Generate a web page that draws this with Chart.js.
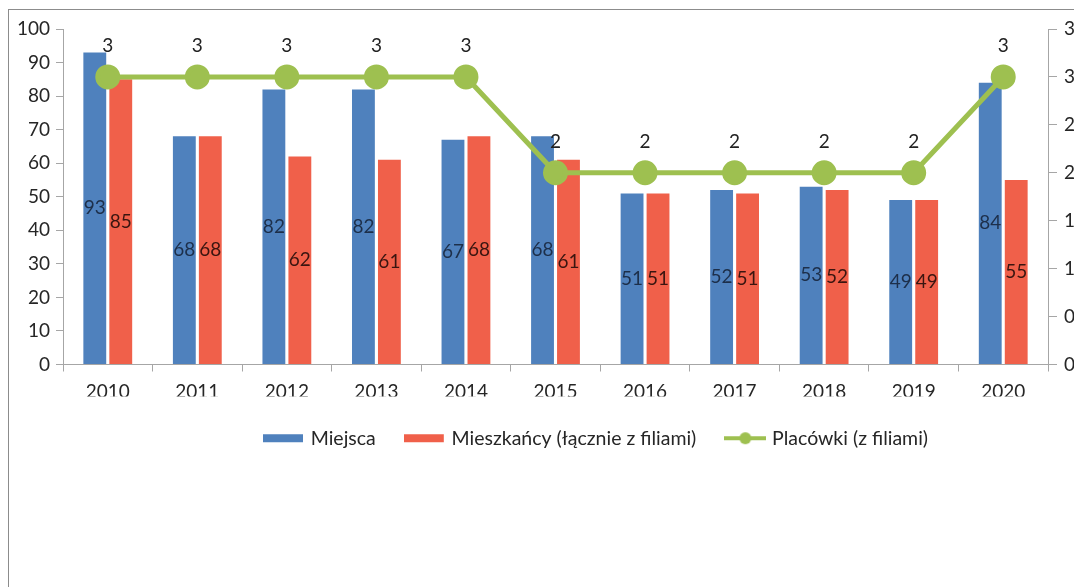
<!DOCTYPE html>
<html>
<head>
<meta charset="utf-8">
<script src="https://cdn.jsdelivr.net/npm/chart.js@4.4.1/dist/chart.umd.min.js"></script>
<style>
html, body { margin: 0; padding: 0; background: #fff; overflow: hidden; width: 1074px; height: 587px; }
#frame { position: absolute; left: 8px; top: 9px; width: 1200px; height: 700px; border: 1px solid #8c8c8c; }
#wykres { position: absolute; left: 0; top: 0; }
</style>
</head>
<body>
<div id="frame"><canvas id="wykres" width="1177" height="470"></canvas></div>
<script>
//dane do wykresu
var lata = ['2010', '2011', '2012', '2013', '2014', '2015', '2016', '2017', '2018', '2019', '2020'];
var miejsca = [93, 68, 82, 82, 67, 68, 51, 52, 53, 49, 84];
var mieszkancy = [85, 68, 62, 61, 68, 61, 51, 51, 52, 49, 55];
var placowki = [3, 3, 3, 3, 3, 2, 2, 2, 2, 2, 3];
var nazwySerii = ['Miejsca', 'Mieszkańcy (łącznie z filiami)', 'Placówki (z filiami)'];

var NIEBIESKI = '#4F81BD';
var CZERWONY = '#F0604A';
var ZIELONY = '#9EC050';
var FONT = 'Lato';
var TEKST = '#262626';

//mala ikonka do legendy (prostokat albo linia z kropka)
function ikonka(linia, kolor) {
  var c = document.createElement('canvas');
  c.width = 42;
  c.height = 16;
  var g = c.getContext('2d');
  if (linia) {
    g.strokeStyle = kolor;
    g.lineWidth = 4;
    g.beginPath();
    g.moveTo(0, 8);
    g.lineTo(42, 8);
    g.stroke();
    g.fillStyle = kolor;
    g.beginPath();
    g.arc(21, 8, 6, 0, Math.PI * 2);
    g.fill();
  } else {
    g.fillStyle = kolor;
    g.fillRect(0, 4, 40, 8);
  }
  return c;
}

//etykiety z wartosciami na slupkach i punktach
var etykiety = {
  id: 'etykiety',
  afterDatasetsDraw: function(chart) {
    var ctx = chart.ctx;
    ctx.save();
    ctx.font = '19px ' + FONT;
    ctx.textAlign = 'center';
    ctx.textBaseline = 'middle';
    chart.data.datasets.forEach(function(ds, i) {
      var meta = chart.getDatasetMeta(i);
      meta.data.forEach(function(el, j) {
        var v = ds.data[j];
        if (ds.type === 'line') {
          ctx.fillStyle = '#222';
          ctx.fillText(v, el.x, el.y - 31);
        } else {
          ctx.fillStyle = ds.kolorEtykiety;
          ctx.fillText(v, el.x, (el.y + el.base) / 2);
        }
      });
    });
    ctx.restore();
  }
};

var osKolor = '#a6a6a6';

const config = {
  data: {
    labels: lata,
    datasets: [
      {
        type: 'line',
        label: nazwySerii[2],
        data: placowki,
        yAxisID: 'y1',
        borderColor: ZIELONY,
        backgroundColor: ZIELONY,
        borderWidth: 5,
        pointRadius: 10,
        pointBackgroundColor: ZIELONY,
        pointBorderColor: ZIELONY,
        tension: 0,
        order: 0
      },
      {
        type: 'bar',
        label: nazwySerii[0],
        data: miejsca,
        yAxisID: 'y',
        backgroundColor: NIEBIESKI,
        kolorEtykiety: '#1d2f4a',
        barPercentage: 0.88,
        categoryPercentage: 0.58,
        order: 1
      },
      {
        type: 'bar',
        label: nazwySerii[1],
        data: mieszkancy,
        yAxisID: 'y',
        backgroundColor: CZERWONY,
        kolorEtykiety: '#3a1510',
        barPercentage: 0.88,
        categoryPercentage: 0.58,
        order: 1
      }
    ]
  },
  options: {
    responsive: false,
    animation: false,
    devicePixelRatio: 1,
    layout: { padding: { top: 19, bottom: 22, left: 0, right: 0 } },
    plugins: {
      tooltip: { enabled: false },
      legend: {
        position: 'bottom',
        labels: {
          usePointStyle: true,
          pointStyleWidth: 34,
          boxHeight: 19,
          padding: 32,
          color: TEKST,
          font: { family: FONT, size: 19.5 },
          generateLabels: function(chart) {
            //kolejnosc jak w oryginale: slupki, potem linia
            var kolejnosc = [1, 2, 0];
            return kolejnosc.map(function(i) {
              var ds = chart.data.datasets[i];
              return {
                text: ds.label,
                pointStyle: ikonka(ds.type === 'line', ds.backgroundColor),
                fillStyle: ds.backgroundColor,
                strokeStyle: ds.backgroundColor,
                lineWidth: 0,
                hidden: false,
                datasetIndex: i,
                fontColor: TEKST
              };
            });
          }
        }
      }
    },
    scales: {
      x: {
        grid: { drawOnChartArea: false, tickLength: 7, color: osKolor, offset: true },
        border: { color: osKolor },
        ticks: { color: TEKST, padding: 9, font: { family: FONT, size: 19 } },
        afterFit: function(s) { s.height = 32; }
      },
      y: {
        position: 'left',
        min: 0,
        max: 100,
        grid: { drawOnChartArea: false, tickLength: 7, color: osKolor },
        border: { color: osKolor },
        ticks: { stepSize: 10, color: TEKST, padding: 6, font: { family: FONT, size: 19 } },
        afterFit: function(s) { s.width = 54; }
      },
      y1: {
        position: 'right',
        min: 0,
        max: 3.5,
        grid: { drawOnChartArea: false, tickLength: 9, color: osKolor },
        border: { color: osKolor },
        ticks: {
          stepSize: 0.5,
          color: TEKST,
          padding: 7,
          font: { family: FONT, size: 19 },
          callback: function(v) { return String(v).replace('.', ','); }
        },
        afterFit: function(s) { s.width = 138; }
      }
    }
  },
  plugins: [etykiety]
};

var wykres = new Chart(document.getElementById('wykres'), config);
</script>
</body>
</html>
